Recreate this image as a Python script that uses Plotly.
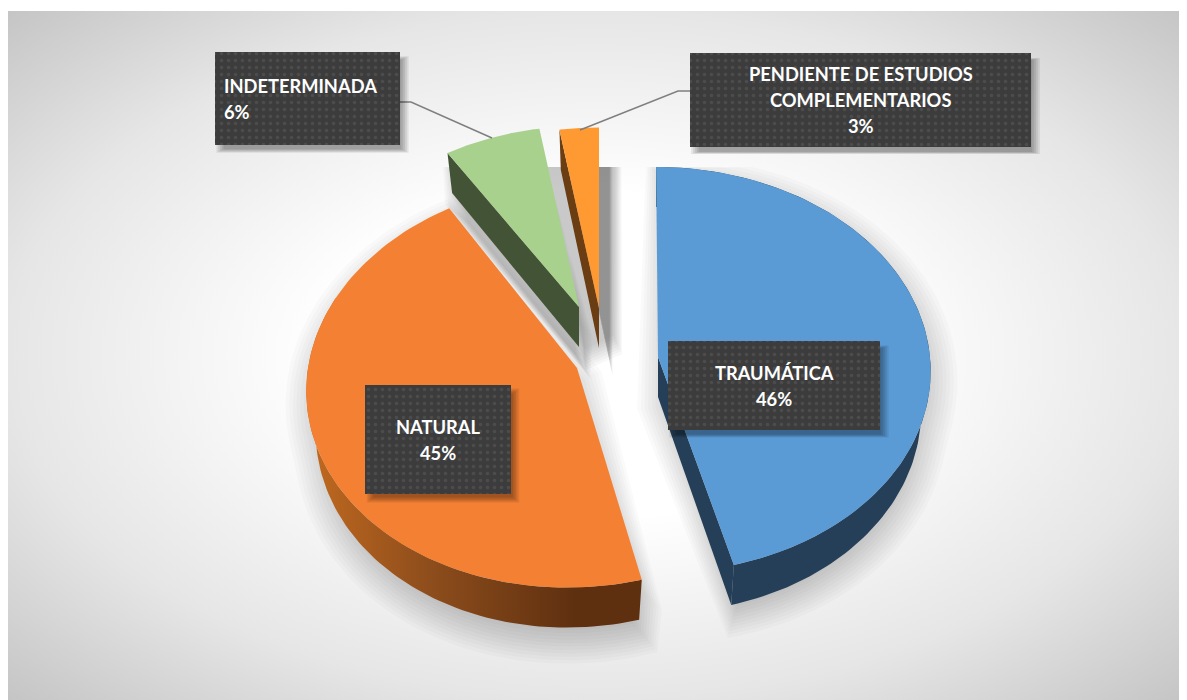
import numpy as np
import plotly.graph_objects as go

# ---- data ----
categories = ["TRAUMÁTICA", "NATURAL", "INDETERMINADA", "PENDIENTE DE ESTUDIOS|COMPLEMENTARIOS"]
values = [45.9, 45.1, 6.4, 2.6]

# ---- style / layout ----
top_colors = ["#5b9bd5", "#f38033", "#a9d18e", "#ff9a33"]
side_colors = ["#243f57", "#7a4218", "#435335", "#6a3d12"]
apex_x = [658, 577, 579, 599]
apex_y = [357, 368, 307, 308]
slice_scale = [1.0, 1.0, 0.95, 0.95]
slice_shear = [0.01, -0.045, 0.0, 0.0]
slice_rx = [272, 269, 272, 272]
slice_persp = [0.0626, 0.08, 0.0626, 0.0626]
RY, DEPTH, BOTTOM_SCALE = 202, 40, 0.965
label_boxes = [(668, 341, 880, 430), (365, 385, 511, 494), (215, 52, 400, 145), (690, 53, 1031, 147)]
label_anchor = ["center", "center", "left", "center"]
leaders = [None, None, ([400, 411, 492], [102, 102, 138]), ([690, 678, 580], [91, 91, 130])]
FONT = "Lato"
FONT_SIZE = 18.3
LINE_STEP = 26
# the page adds an 8 px margin round the figure
PAGE = 8

def project(i, theta, bottom=False):
    u, v = np.sin(theta), -np.cos(theta)
    s = slice_scale[i] / (1 - slice_persp[i] * v)
    k = BOTTOM_SCALE if bottom else 1.0
    dy = RY * v * s
    return apex_x[i] + slice_rx[i] * u * s * k + slice_shear[i] * dy, apex_y[i] + dy + (DEPTH if bottom else 0)

def hull(px, py):
    pts = sorted(set(zip(np.round(px, 2).tolist(), np.round(py, 2).tolist())))
    def half(seq):
        out = []
        for p in seq:
            while len(out) > 1 and (out[-1][0]-out[-2][0])*(p[1]-out[-2][1]) - (out[-1][1]-out[-2][1])*(p[0]-out[-2][0]) <= 0:
                out.pop()
            out.append(p)
        return out[:-1]
    h = half(pts) + half(pts[::-1])
    return np.array([p[0] for p in h]), np.array([p[1] for p in h])

def poly(x, y, **kw):
    x, y = list(x), list(y)
    kw.setdefault("line", dict(width=0))
    return go.Scatter(x=x + x[:1], y=y + y[:1], mode="lines", fill="toself",
                      hoverinfo="skip", showlegend=False, **kw)

def soft(x, y, dx, dy, blur, total=0.22, layers=14, clip_top=167):
    x, y = np.asarray(x, float), np.asarray(y, float)
    cx, cy = (x.min()+x.max())/2, (y.min()+y.max())/2
    out = []
    for d in np.linspace(blur, -blur, layers):
        r = np.hypot(x-cx, y-cy) + 1e-6
        nx = x + d*(x-cx)/r + dx
        ny = y + d*(y-cy)/r + dy
        if clip_top is not None:
            ny = np.maximum(ny, clip_top)
        out.append(poly(nx, ny, fillcolor=f"rgba(0,0,0,{total/layers:.4f})"))
    return out

fig = go.Figure()

# plate background with a radial gradient (oversized so the corners reach the last stop)
gx, gy = 597, 355
hw, hh = 840, 490
fig.add_trace(poly([gx-hw, gx+hw, gx+hw, gx-hw], [gy-hh, gy-hh, gy+hh, gy+hh],
    fillcolor="#ffffff",
    fillgradient=dict(type="radial", colorscale=[[0, "#ffffff"], [0.33, "#ffffff"], [0.7, "#e6e6e6"], [1, "#c4c4c4"]])))
fig.add_trace(poly([0, 1187, 1187, 0], [0, 0, 11, 11], fillcolor="#ffffff"))

# slice angles from the values
frac = np.array(values) / sum(values)
edges = np.concatenate([[0], np.cumsum(frac)]) * 2 * np.pi
arcs = [np.linspace(edges[i], edges[i+1], 120) for i in range(len(values))]

# soft block of shadow behind the two small exploded slices
for tr in soft([538, 618, 618, 585, 560], [150, 150, 345, 360, 250], 0, 0, 10, total=0.21, layers=8):
    fig.add_trace(tr)

# shadows
shadow_off = [(3, 10), (3, 14), (4, 20), (12, 20)]
shadow_blur = [24, 24, 14, 10]
for i in range(len(values)):
    ax_t, ay_t = project(i, arcs[i])
    ax_b, ay_b = project(i, arcs[i], True)
    hx, hy = hull(np.r_[ax_t, ax_b, apex_x[i], apex_x[i]], np.r_[ay_t, ay_b, apex_y[i], apex_y[i]+DEPTH])
    for tr in soft(hx, hy, *shadow_off[i], shadow_blur[i], total=0.27):
        fig.add_trace(tr)

# sides and tops
draw_order = [1, 0, 2, 3]
for i in draw_order:
    a = arcs[i]
    tx, ty = project(i, a)
    bx, by = project(i, a, True)
    if i == 1:   # outer wall with a lateral shading
        sel = a <= np.pi * 1.62
        fig.add_trace(poly(np.r_[tx[sel], bx[sel][::-1]], np.r_[ty[sel], by[sel][::-1]],
            fillcolor=side_colors[1],
            fillgradient=dict(type="horizontal", start=310, stop=640,
                colorscale=[[0, "#c0691f"], [0.35, "#8f4e1c"], [0.8, "#5f3010"], [1, "#5f3010"]])))
    if i == 0:   # outer wall and end cut
        fig.add_trace(poly(np.r_[tx, bx[::-1]], np.r_[ty, by[::-1]], fillcolor=side_colors[0]))
        fig.add_trace(poly([apex_x[i], tx[-1], bx[-1], apex_x[i]],
                           [apex_y[i], ty[-1], by[-1], apex_y[i]+DEPTH], fillcolor=side_colors[0]))
    if i in (2, 3):   # start cut wall
        fig.add_trace(poly([tx[0], apex_x[i], apex_x[i], bx[0]],
                           [ty[0], apex_y[i], apex_y[i]+DEPTH, by[0]], fillcolor=side_colors[i]))
    fig.add_trace(poly(np.r_[apex_x[i], tx], np.r_[apex_y[i], ty], fillcolor=top_colors[i]))

# leader lines
for ld in leaders:
    if ld:
        fig.add_trace(go.Scatter(x=ld[0], y=ld[1], mode="lines", line=dict(color="#7f7f7f", width=1.5),
                                 hoverinfo="skip", showlegend=False))

# labels
annotations = []
for i, (x0, y0, x1, y1) in enumerate(label_boxes):
    for tr in soft([x0, x1, x1, x0], [y0, y0, y1, y1], 5, 6, 4, total=0.4, layers=5, clip_top=None):
        fig.add_trace(tr)
    fig.add_trace(poly([x0, x1, x1, x0], [y0, y0, y1, y1], fillcolor="#3c3c3c",
        fillpattern=dict(shape=".", bgcolor="#3c3c3c", fgcolor="#5c5c5c", size=7, solidity=0.2)))
    lines = categories[i].split("|") + [f"{round(frac[i]*100)}%"]
    mid = (y0 + y1) / 2
    for j, ln in enumerate(lines):
        yy = mid + (j - (len(lines) - 1) / 2) * LINE_STEP
        left = label_anchor[i] == "left"
        annotations.append(dict(x=x0 + 7 if left else (x0+x1)/2, y=yy, xref="x", yref="y",
                                text=f"<b>{ln}</b>", showarrow=False,
                                xanchor="left" if left else "center", yanchor="middle",
                                font=dict(family=FONT, size=FONT_SIZE, color="#ffffff")))

fig.update_layout(width=1187-PAGE, height=700-PAGE, margin=dict(l=0, r=0, t=0, b=0),
                  paper_bgcolor="#ffffff", plot_bgcolor="#ffffff", showlegend=False,
                  xaxis=dict(range=[PAGE, 1187], visible=False, fixedrange=True),
                  yaxis=dict(range=[700, PAGE], visible=False, fixedrange=True),
                  annotations=annotations)
fig.write_html("out.html", config=dict(displayModeBar=False))
